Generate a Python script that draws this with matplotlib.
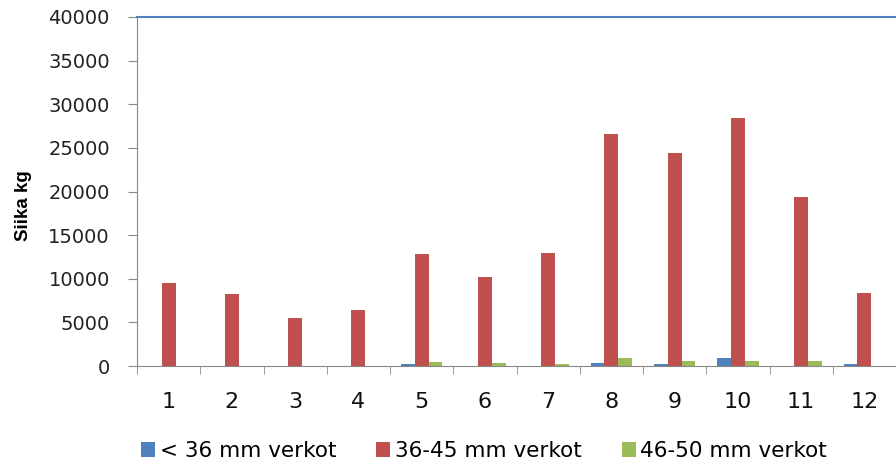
import matplotlib.pyplot as plt
import numpy as np

months = ['1', '2', '3', '4', '5', '6', '7', '8', '9', '10', '11', '12']
small = [0, 0, 0, 0, 200, 0, 0, 300, 250, 900, 0, 250]
mid = [9500, 8200, 5500, 6400, 12800, 10200, 13000, 26600, 24400, 28400, 19400, 8400]
large = [0, 0, 0, 0, 500, 400, 200, 900, 600, 600, 600, 0]
labels = ['< 36 mm verkot', '36-45 mm verkot', '46-50 mm verkot']

plt.rcParams['font.family'] = ['DejaVu Sans']

fig = plt.figure(figsize=(8.96, 4.63), dpi=100)
ax = fig.add_axes([137 / 896, 97 / 463, 1 - 137 / 896, 349 / 463])

x = np.arange(1, len(months) + 1)
w = 0.22
ax.bar(x - w, small, w, color='#4f81bd', label=labels[0])
ax.bar(x, mid, w, color='#c0504d', label=labels[1])
ax.bar(x + w, large, w, color='#9bbb59', label=labels[2])

ax.set_xlim(0.5, 12.39)
ax.set_ylim(0, 40000)
ax.set_yticks(range(0, 40001, 5000))
ax.set_yticklabels([str(v) for v in range(0, 40001, 5000)], fontsize=14, color='#222222')
ax.set_xticks(x)
ax.set_xticklabels(months, fontsize=16, color='#111111')
ax.set_xticks(np.arange(0.5, 13, 1), minor=True)
ax.tick_params(axis='x', which='major', length=0, pad=19)
ax.tick_params(axis='x', which='minor', length=6, color='#888888')
ax.tick_params(axis='y', length=6.5, color='#888888', pad=13)

ax.spines['right'].set_visible(False)
ax.spines['left'].set_color('#888888')
ax.spines['bottom'].set_color('#888888')
ax.spines['top'].set_color('#4f81bd')
ax.spines['top'].set_linewidth(1.5)

fig.text(23 / 896, 1 - 206 / 463, 'Siika kg', rotation=90, ha='center', va='center',
         fontsize=13.5, fontweight='bold', family=['Liberation Sans', 'DejaVu Sans'])

fig.legend(loc='center', bbox_to_anchor=(484 / 896, 12 / 463), ncol=3, frameon=False,
           fontsize=15.5, handlelength=0.65, handleheight=0.65, handletextpad=0.23,
           columnspacing=1.85, borderaxespad=0, borderpad=0)

fig.savefig('out.png', dpi=100)
